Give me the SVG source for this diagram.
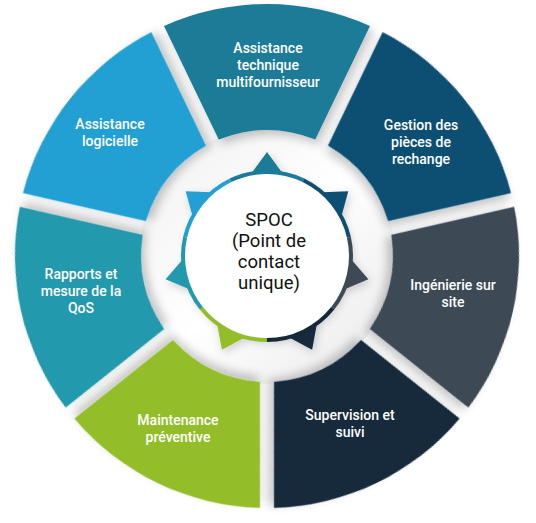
<svg xmlns="http://www.w3.org/2000/svg" xmlns:xlink="http://www.w3.org/1999/xlink" width="536" height="523" viewBox="0 0 536 523">
  <defs>
    <path id="seg" d="M 164.02 26.00 A 252 252 0 0 1 369.98 26.00 L 315.28 139.62 A 126 126 0 0 0 218.72 139.62 Z"/>
    <path id="tip" d="M 267 152 L 286 178.05 L 248 178.05 Z"/>
    <path id="arc" d="M 230.55 180.32 A 84 84 0 0 1 303.45 180.32" fill="none" stroke-width="4"/>
    <filter id="sh" x="-20%" y="-20%" width="140%" height="140%">
      <feDropShadow dx="4" dy="5" stdDeviation="5" flood-color="#000" flood-opacity="0.22"/>
    </filter>
    <filter id="sh2" x="-30%" y="-30%" width="160%" height="160%">
      <feDropShadow dx="2" dy="3" stdDeviation="4" flood-color="#000" flood-opacity="0.18"/>
    </filter>
    <linearGradient id="ringbg" x1="0" y1="0" x2="1" y2="1">
      <stop offset="0" stop-color="#f0f0f0"/>
      <stop offset="0.5" stop-color="#ffffff"/>
      <stop offset="1" stop-color="#e8e8e8"/>
    </linearGradient>
  </defs>
  <style>
    .lbl { font-family: Roboto, "Liberation Sans", sans-serif; font-size: 14px; font-weight: 500; fill: #ffffff; text-anchor: middle; }
    .ctr { font-family: Roboto, "Liberation Sans", sans-serif; font-size: 18.5px; font-weight: 400; fill: #111111; text-anchor: middle; }
    .segs use { filter: url(#sh); }
  </style>
  <rect width="536" height="523" fill="#ffffff"/>
  <circle cx="267" cy="256" r="128" fill="url(#ringbg)"/>

  <g class="segs">
    <g id="seg-assistance-technique">
      <use xlink:href="#seg" href="#seg" fill="#1b7b98"/>
      <text class="lbl" x="268" y="53">Assistance</text>
      <text class="lbl" x="268" y="70">technique</text>
      <text class="lbl" x="268" y="87">multifournisseur</text>
    </g>
    <g id="seg-gestion-pieces">
      <use xlink:href="#seg" href="#seg" fill="#0c4f73" transform="rotate(51.4286 267 256)"/>
      <text class="lbl" x="421" y="130">Gestion des</text>
      <text class="lbl" x="421" y="147">pièces de</text>
      <text class="lbl" x="421" y="164">rechange</text>
    </g>
    <g id="seg-ingenierie">
      <use xlink:href="#seg" href="#seg" fill="#3c4a55" transform="rotate(102.857 267 256)"/>
      <text class="lbl" x="453" y="290">Ingénierie sur</text>
      <text class="lbl" x="453" y="307">site</text>
    </g>
    <g id="seg-supervision">
      <use xlink:href="#seg" href="#seg" fill="#13293a" transform="rotate(154.286 267 256)"/>
      <text class="lbl" x="350" y="420">Supervision et</text>
      <text class="lbl" x="350" y="437">suivi</text>
    </g>
    <g id="seg-maintenance">
      <use xlink:href="#seg" href="#seg" fill="#94bd2a" transform="rotate(205.714 267 256)"/>
      <text class="lbl" x="178" y="425">Maintenance</text>
      <text class="lbl" x="178" y="442">préventive</text>
    </g>
    <g id="seg-rapports">
      <use xlink:href="#seg" href="#seg" fill="#2299ad" transform="rotate(257.143 267 256)"/>
      <text class="lbl" x="81" y="279">Rapports et</text>
      <text class="lbl" x="81" y="296">mesure de la</text>
      <text class="lbl" x="81" y="313">QoS</text>
    </g>
    <g id="seg-assistance-logicielle">
      <use xlink:href="#seg" href="#seg" fill="#21a0d3" transform="rotate(308.571 267 256)"/>
      <text class="lbl" x="110" y="129">Assistance</text>
      <text class="lbl" x="110" y="146">logicielle</text>
    </g>
  </g>

  <g id="connectors"></g>

  <g id="spoc">
    <g filter="url(#sh2)">
      <use xlink:href="#tip" href="#tip" fill="#1b7b98"/>
      <use xlink:href="#tip" href="#tip" fill="#0c4f73" transform="rotate(51.4286 267 256)"/>
      <use xlink:href="#tip" href="#tip" fill="#3c4a55" transform="rotate(102.857 267 256)"/>
      <use xlink:href="#tip" href="#tip" fill="#13293a" transform="rotate(154.286 267 256)"/>
      <use xlink:href="#tip" href="#tip" fill="#94bd2a" transform="rotate(205.714 267 256)"/>
      <use xlink:href="#tip" href="#tip" fill="#2299ad" transform="rotate(257.143 267 256)"/>
      <use xlink:href="#tip" href="#tip" fill="#21a0d3" transform="rotate(308.571 267 256)"/>
      <circle cx="267" cy="256" r="84" fill="#ffffff"/>
    </g>
    <use xlink:href="#arc" href="#arc" stroke="#1b7b98"/>
    <use xlink:href="#arc" href="#arc" stroke="#0c4f73" transform="rotate(51.4286 267 256)"/>
    <use xlink:href="#arc" href="#arc" stroke="#3c4a55" transform="rotate(102.857 267 256)"/>
    <use xlink:href="#arc" href="#arc" stroke="#13293a" transform="rotate(154.286 267 256)"/>
    <use xlink:href="#arc" href="#arc" stroke="#94bd2a" transform="rotate(205.714 267 256)"/>
    <use xlink:href="#arc" href="#arc" stroke="#2299ad" transform="rotate(257.143 267 256)"/>
    <use xlink:href="#arc" href="#arc" stroke="#21a0d3" transform="rotate(308.571 267 256)"/>
    <text class="ctr" x="269" y="226">SPOC</text>
    <text class="ctr" x="269" y="247">(Point de</text>
    <text class="ctr" x="269" y="268">contact</text>
    <text class="ctr" x="269" y="289">unique)</text>
  </g>
</svg>
